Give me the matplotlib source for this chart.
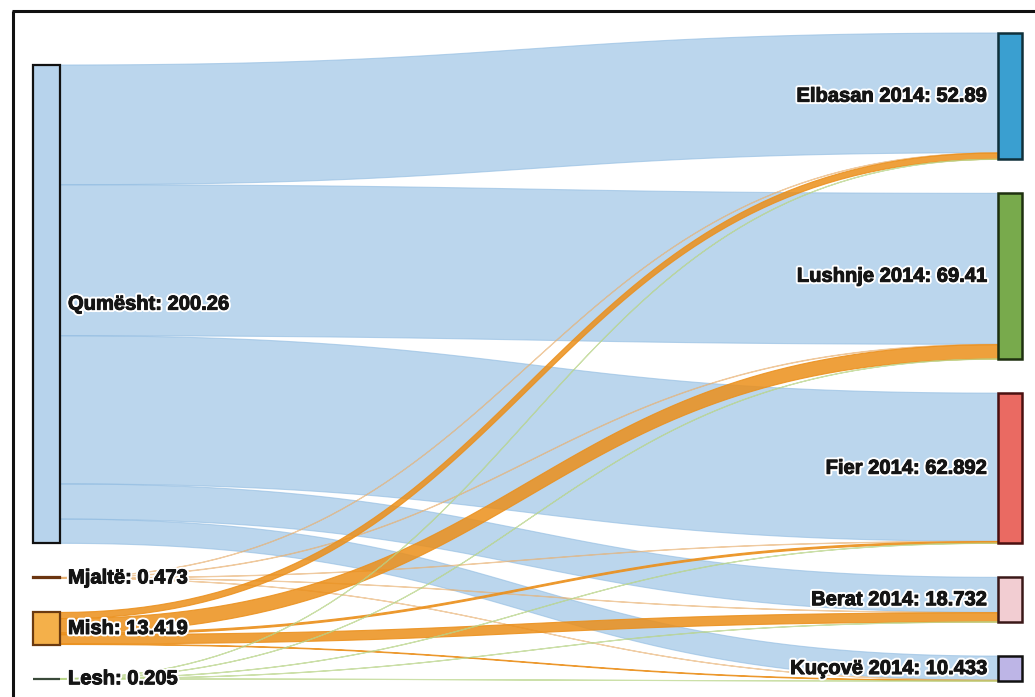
import numpy as np
import matplotlib
matplotlib.use("Agg")
import matplotlib.pyplot as plt
from matplotlib.patches import Rectangle, Polygon
import matplotlib.patheffects as pe

# ---------------- data ----------------
sources = ["Qumësht", "Mjaltë", "Mish", "Lesh"]
source_value_labels = ["200.26", "0.473", "13.419", "0.205"]
targets = ["Elbasan 2014", "Lushnje 2014", "Fier 2014", "Berat 2014", "Kuçovë 2014"]
target_value_labels = ["52.89", "69.41", "62.892", "18.732", "10.433"]

# flows from each source to targets (same order as targets)
flow_qumesht = [50.14, 63.21, 62.042, 14.722, 10.146]
flow_mjalte = [0.10, 0.15, 0.10, 0.08, 0.043]
flow_mish = [2.60, 6.00, 0.70, 3.90, 0.219]
flow_lesh = [0.05, 0.05, 0.05, 0.03, 0.025]

flows = np.array([flow_qumesht, flow_mjalte, flow_mish, flow_lesh])

# ---------------- styles ----------------
src_fill = ["#b7d3ec", "#8b4a1c", "#f4b04a", "#4a5a4a"]
src_edge = ["#111111", "#6b3510", "#6b3a10", "#3a4a3a"]
tgt_fill = ["#3a9fd0", "#78aa4c", "#ea6a62", "#f2cdd2", "#bdb5e6"]
tgt_edge = ["#10303a", "#1e3010", "#4a1010", "#3a1818", "#111111"]
link_color = ["#8fbbe1", "#e8b070", "#eb8f1a", "#b8d488"]
link_alpha = [0.6, 0.6, 0.85, 0.7]

W, H = 1035, 697
fig = plt.figure(figsize=(W / 100, H / 100), dpi=100)
ax = fig.add_axes([0, 0, 1, 1])
ax.set_xlim(0, W)
ax.set_ylim(H, 0)
ax.axis("off")

src_tot = flows.sum(axis=1)
tgt_tot = flows.sum(axis=0)
total = src_tot.sum()

gap = 34.0
right_top, right_bot = 33.0, 681.0
k = (right_bot - right_top - gap * (len(targets) - 1)) / total
left_top = 65.0

xl0, xl1 = 33.0, 60.0
xr0, xr1 = 998.0, 1022.0

# node positions
src_y = []
y = left_top
for v in src_tot:
    src_y.append(y)
    y += v * k + gap
tgt_y = []
y = right_top
for v in tgt_tot:
    tgt_y.append(y)
    y += v * k + gap

# links
t = np.linspace(0, 1, 80)
xm = (xl1 + xr0) / 2


def bez(y0, y1):
    x = (1 - t) ** 3 * xl1 + 3 * (1 - t) ** 2 * t * xm + 3 * (1 - t) * t ** 2 * xm + t ** 3 * xr0
    yy = (1 - t) ** 3 * y0 + 3 * (1 - t) ** 2 * t * y0 + 3 * (1 - t) * t ** 2 * y1 + t ** 3 * y1
    return x, yy


# source offsets follow target order; target offsets follow source order
s_pos = {}
for i in range(len(sources)):
    o = src_y[i]
    for j in range(len(targets)):
        s_pos[(i, j)] = o
        o += flows[i, j] * k
t_pos = {}
for j in range(len(targets)):
    o = tgt_y[j]
    for i in range(len(sources)):
        t_pos[(j, i)] = o
        o += flows[i, j] * k

for i in range(len(sources)):
    for j in range(len(targets)):
        th = flows[i, j] * k
        y0 = s_pos[(i, j)]
        y1 = t_pos[(j, i)]
        xa, ya = bez(y0, y1)
        xb, yb = bez(y0 + th, y1 + th)
        pts = np.concatenate([np.column_stack([xa, ya]), np.column_stack([xb, yb])[::-1]])
        ax.add_patch(Polygon(pts, closed=True, facecolor=link_color[i], edgecolor=link_color[i],
                             linewidth=0.8, alpha=link_alpha[i], zorder=2 + (i > 0)))

# nodes
for i, name in enumerate(sources):
    h = src_tot[i] * k
    ax.add_patch(Rectangle((xl0, src_y[i]), xl1 - xl0, h, facecolor=src_fill[i],
                           edgecolor=src_edge[i], linewidth=1.6, zorder=5))
for j, name in enumerate(targets):
    h = tgt_tot[j] * k
    ax.add_patch(Rectangle((xr0, tgt_y[j]), xr1 - xr0, h, facecolor=tgt_fill[j],
                           edgecolor=tgt_edge[j], linewidth=1.8, zorder=5))

halo = [pe.withStroke(linewidth=3.5, foreground="white"),
        pe.withStroke(linewidth=0.7, foreground="#151515")]
font = dict(fontsize=14.5, fontweight="bold", family=["Liberation Sans", "DejaVu Sans"],
            color="#151515", va="center", zorder=6, path_effects=halo)
for i, name in enumerate(sources):
    yc = src_y[i] + src_tot[i] * k / 2
    ax.text(xl1 + 8, yc, f"{name}: {source_value_labels[i]}", ha="left", **font)
for j, name in enumerate(targets):
    yc = tgt_y[j] + tgt_tot[j] * k / 2
    ax.text(xr0 - 11, yc, f"{name}: {target_value_labels[j]}", ha="right", **font)

# scanned page frame
ax.plot([12, W], [11, 11], color="#111111", lw=2.2, zorder=7, solid_capstyle="butt")
ax.plot([13, 13], [11, H], color="#111111", lw=2.2, zorder=7, solid_capstyle="butt")

fig.savefig("out.png", dpi=100)
